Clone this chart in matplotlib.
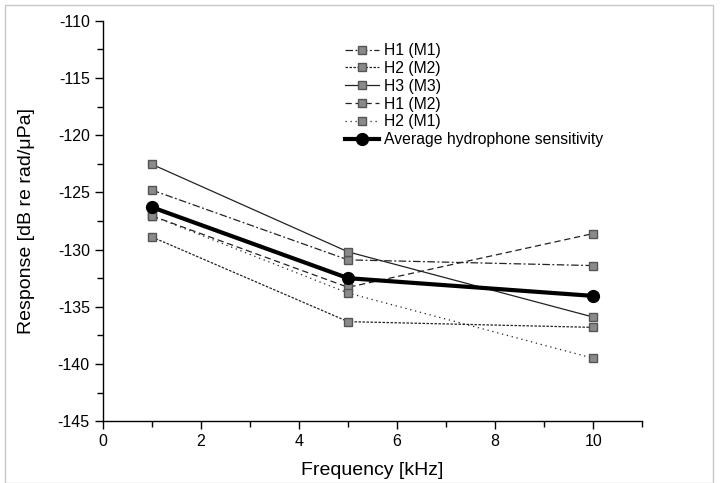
import matplotlib
matplotlib.use("Agg")
import matplotlib.pyplot as plt
from matplotlib.ticker import MultipleLocator
from matplotlib.patches import Rectangle

plt.rcParams['font.family'] = ['Liberation Sans', 'DejaVu Sans']
plt.rcParams['axes.unicode_minus'] = False

freq = [1, 5, 10]
h1_m1 = [-124.8, -130.9, -131.4]
h2_m2 = [-128.9, -136.3, -136.8]
h3_m3 = [-122.55, -130.2, -135.9]
h1_m2 = [-127.05, -133.3, -128.6]
h2_m1 = [-127.05, -133.8, -139.5]
average = [-126.3, -132.5, -134.05]

labels = ["H1 (M1)", "H2 (M2)", "H3 (M3)", "H1 (M2)", "H2 (M1)"]
series = [h1_m1, h2_m2, h3_m3, h1_m2, h2_m1]
styles = [(0, (6, 2, 1.5, 2)), (0, (2, 1.2)), '-', (0, (5, 3)), (0, (1, 3))]

fig = plt.figure(figsize=(7.2, 4.83), dpi=100)
ax = fig.add_axes([0.143, 0.128, 0.749, 0.829])

for vals, lab, ls in zip(series, labels, styles):
    ax.plot(freq, vals, linestyle=ls, color='#222222', lw=0.9,
            marker='s', markersize=5.5, markerfacecolor='#8a8a8a',
            markeredgecolor='#555555', markeredgewidth=1.0, label=lab)

ax.plot(freq, average, '-o', color='black', lw=3, markersize=8.5,
        label='Average hydrophone sensitivity')

ax.set_xlim(0, 11)
ax.set_ylim(-145, -110)
ax.yaxis.set_major_locator(MultipleLocator(5))
ax.yaxis.set_minor_locator(MultipleLocator(2.5))
ax.set_xticks([0, 2, 4, 6, 8, 10])
ax.set_xticks([1, 3, 5, 7, 9, 11], minor=True)

for s in ['top', 'right']:
    ax.spines[s].set_visible(False)
for s in ['left', 'bottom']:
    ax.spines[s].set_linewidth(1.0)
ax.tick_params(which='major', direction='out', length=6, width=1, labelsize=11.5, colors='black')
ax.tick_params(which='minor', direction='out', length=4, width=1)

ax.set_xlabel('Frequency [kHz]', fontsize=14, labelpad=9)
ax.set_ylabel('Response [dB re rad/\u03bcPa]', fontsize=14, labelpad=16)

leg = ax.legend(loc='upper left', bbox_to_anchor=(0.437, 0.96), frameon=False,
                fontsize=11.3, handlelength=2.2, handletextpad=0.3,
                labelspacing=0.18, borderaxespad=0)

fig.patches.append(Rectangle((5 / 720, 0.0), 708 / 720, 1 - 5 / 483,
                             transform=fig.transFigure, fill=False,
                             edgecolor='#c8c8c8', lw=1))

fig.savefig('out.png', dpi=100)
